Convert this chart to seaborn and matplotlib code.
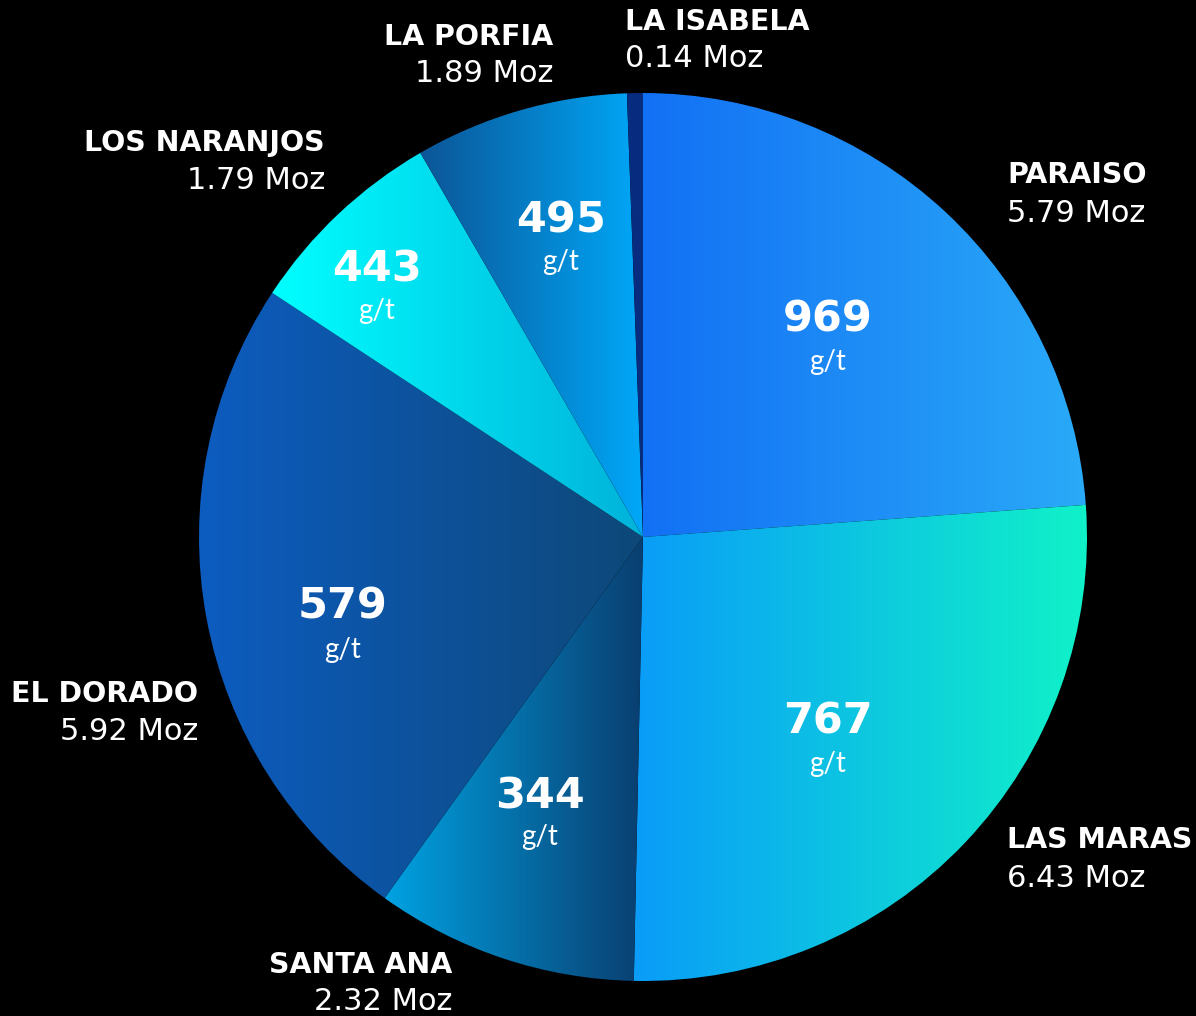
import numpy as np
import matplotlib
matplotlib.use("Agg")
import matplotlib.pyplot as plt
from matplotlib.colors import LinearSegmentedColormap
import seaborn as sns

sns.set_theme(style="dark")
plt.rcParams['font.family'] = ['DejaVu Sans']

# ---- data ----
names = ["PARAISO", "LAS MARAS", "SANTA ANA", "EL DORADO", "LOS NARANJOS", "LA PORFIA", "LA ISABELA"]
moz = [5.79, 6.43, 2.32, 5.92, 1.79, 1.89, 0.14]
grade = [969, 767, 344, 579, 443, 495, None]
grad_left = ["#1270F4", "#0A9CF8", "#00A2E2", "#0C5CC0", "#00FFFF", "#0B5596", "#082C80"]
grad_right = ["#2AAAF8", "#10F2C8", "#0A3E70", "#0E4878", "#00B2DA", "#00A8F8", "#082C80"]

W, H = 1196, 1016
CX, CY, R = 643, 537, 444  # pie centre / radius in pixels (layout)

fig = plt.figure(figsize=(W / 100, H / 100), dpi=100, facecolor="black")
ax = fig.add_axes([0, 0, 1, 1])
ax.set_facecolor("black")

wedges, _ = ax.pie(moz, startangle=90, counterclock=False, radius=1,
                   center=(0, 0), wedgeprops=dict(linewidth=0))

def px(x, y):
    return (x - CX) / R, (CY - y) / R

ax.axis("off")

for w, cl, cr in zip(wedges, grad_left, grad_right):
    w.set_facecolor("none")
    ext = w.get_path().get_extents()
    cmap = LinearSegmentedColormap.from_list("g", [cl, cr])
    grad = np.linspace(0, 1, 256).reshape(1, -1)
    im = ax.imshow(grad, cmap=cmap, aspect="auto", interpolation="bicubic",
                   extent=[ext.x0, ext.x1, ext.y0, ext.y1], zorder=1)
    im.set_clip_path(w)

ax.set_aspect("equal", adjustable="box")
ax.set_xlim(px(0, 0)[0], px(W, 0)[0])
ax.set_ylim(px(0, H)[1], px(0, 0)[1])

# outer labels: (x, baseline line1, baseline line2, ha)
outer = [
    (1007, 183, 222, "left"),
    (1007, 848, 887, "left"),
    (452, 973, 1010, "right"),
    (198, 702, 740, "right"),
    (325, 151, 189, "right"),
    (553, 45, 82, "right"),
    (625, 30, 67, "left"),
]
for (x, y1, y2, ha), n, m in zip(outer, names, moz):
    ax.text(*px(x, y1), n, color="white", fontsize=20.5, fontweight="bold",
            ha=ha, va="baseline")
    ax.text(*px(x, y2), f"{m:.2f} Moz", color="white", fontsize=22,
            fontweight="normal", ha=ha, va="baseline")

inner = [(828, 332, 370), (828, 734, 772), (540, 809, 845),
         (343, 619, 658), (377, 282, 319), (561, 233, 270), None]
for pos, g in zip(inner, grade):
    if pos is None or g is None:
        continue
    x, y1, y2 = pos
    ax.text(*px(x, y1), str(g), color="white", fontsize=31, fontweight="bold",
            ha="center", va="baseline")
    ax.text(*px(x, y2), "g/t", color="white", fontsize=20, fontweight="normal",
            family=["Lato", "DejaVu Sans"], ha="center", va="baseline")

fig.savefig("out.png", dpi=100, facecolor="black")
